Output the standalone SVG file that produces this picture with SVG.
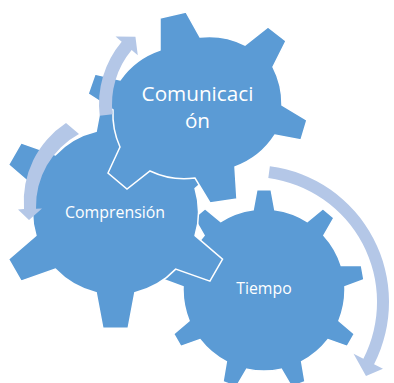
<svg xmlns="http://www.w3.org/2000/svg" width="394" height="383" viewBox="0 0 394 383">
<style>
.gear{fill:#5B9BD5;stroke:#FFFFFF;stroke-width:1.5;stroke-linejoin:miter}
.arrow{fill:#B4C7E7}
.lbl{font-family:"Open Sans","Liberation Sans",sans-serif;fill:#FFFFFF;text-anchor:middle}
</style>
<rect width="394" height="383" fill="#FFFFFF"/>
<g id="tiempo">
<path class="gear" d="M 253.15,209.73 L 256.81,189.76 L 271.19,189.76 L 274.85,209.73 A 81 81 0 0 1 307.29,221.53 L 322.93,208.59 L 333.96,217.85 L 323.91,235.49 A 81 81 0 0 1 341.17,265.38 L 361.47,265.52 L 363.97,279.67 L 344.93,286.75 A 81 81 0 0 1 338.94,320.74 L 354.41,333.90 L 347.22,346.34 L 328.09,339.53 A 81 81 0 0 1 301.65,361.72 L 305.03,381.74 L 291.54,386.65 L 281.25,369.14 A 81 81 0 0 1 246.75,369.14 L 236.46,386.65 L 222.97,381.74 L 226.35,361.72 A 81 81 0 0 1 199.91,339.53 L 180.78,346.34 L 173.59,333.90 L 189.06,320.74 A 81 81 0 0 1 183.07,286.75 L 164.03,279.67 L 166.53,265.52 L 186.83,265.38 A 81 81 0 0 1 204.09,235.49 L 194.04,217.85 L 205.07,208.59 L 220.71,221.53 A 81 81 0 0 1 253.15,209.73 Z"/>
<text class="lbl" x="264" y="294" font-size="15.8">Tiempo</text>
</g>
<g id="comprension">
<path class="gear" d="M 195.08,235.57 L 222.55,259.21 L 209.92,281.10 L 175.71,269.14 A 83 83 0 0 1 134.87,292.71 L 128.14,328.32 L 102.86,328.32 L 96.13,292.71 A 83 83 0 0 1 55.29,269.14 L 21.08,281.10 L 8.45,259.21 L 35.92,235.57 A 83 83 0 0 1 35.92,188.43 L 8.45,164.79 L 21.08,142.90 L 55.29,154.86 A 83 83 0 0 1 96.13,131.29 L 102.86,95.68 L 128.14,95.68 L 134.87,131.29 A 83 83 0 0 1 175.71,154.86 L 209.92,142.90 L 222.55,164.79 L 195.08,188.43 A 83 83 0 0 1 195.08,235.57 Z"/>
<text class="lbl" x="115" y="218.3" font-size="15.9">Comprensión</text>
</g>
<g id="comunicacion">
<path class="gear" d="M 160,50 L 160,18 L 186,12 L 200,37 A 80 80 0 0 1 245,45 L 268,27 L 286,41 L 273,67 A 80 80 0 0 1 282,105 L 307,120 L 301,140 L 275,135 A 80 80 0 0 1 235,167 L 237,199 L 210,203 L 195,178 A 80 80 0 0 1 150,171 L 127,189 L 108,173 L 120,147 A 80 80 0 0 1 113,110 L 88,94 L 95,74 L 120,80 A 80 80 0 0 1 160,50 Z"/>
<text class="lbl" x="197.5" y="101" font-size="20.7">Comunicaci</text>
<text class="lbl" x="197.5" y="127.7" font-size="20.7">ón</text>
</g>
<g id="connectors">
<path class="arrow" d="M 112.63,114.24 L 99.72,115.82 A 97 97 0 0 1 121.70,41.65 L 115.57,36.51 L 135.44,36.75 L 137.78,55.15 L 131.65,50.0 A 84 84 0 0 0 112.63,114.24 Z"/>
<path class="arrow" d="M 66,123 A 94 94 0 0 0 24,209 L 18,209.5 L 29,220 L 42,208.5 L 36,208.7 A 82 82 0 0 1 79,134 Z"/>
<path class="arrow" d="M 269.88,166.18 A 137 137 0 0 1 374.07,364.2 L 382.98,368.74 L 366,376 L 353.57,353.76 L 363.4,358.75 A 125 125 0 0 0 268.31,178.07 Z"/>
</g>
</svg>
